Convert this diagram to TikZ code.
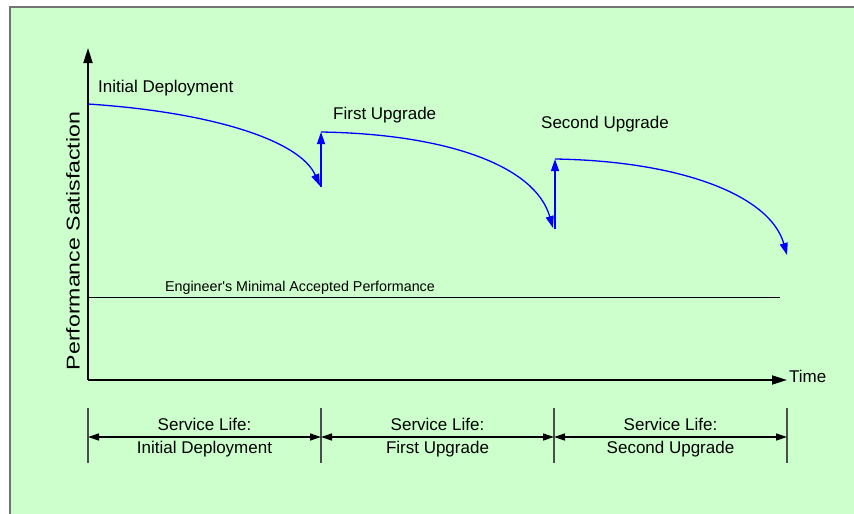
\documentclass[tikz,border=0pt]{standalone}
\usepackage{fontspec}
\setmainfont{Liberation Sans}
\usetikzlibrary{arrows.meta}
\definecolor{panelgreen}{RGB}{204,255,204}
\tikzset{
x=1pt, y=-1pt, % one unit is one pixel of the original, y grows downwards
axis/.style={line width=1.8pt, -{Triangle[length=15pt,width=9pt]}}, % the two axes
life/.style={blue, line width=1.3pt, -{Triangle[length=12pt,width=8pt]}}, % performance curves and upgrades
span/.style={line width=1.3pt, {Triangle[length=11pt,width=7pt]}-{Triangle[length=11pt,width=7pt]}}, % service life arrows
tick/.style={line width=1.4pt, black!70}, % limits of a service life
big/.style={font=\fontsize{17}{20}\selectfont, inner sep=0pt}, % usual text
small/.style={font=\fontsize{14.3}{17}\selectfont, inner sep=0pt}, % text on the minimum line
}

\begin{document}
\begin{tikzpicture}

\useasboundingbox (0,0) rectangle (854,514);
\clip (0,0) rectangle (854,514);
\fill[white] (0,0) rectangle (854,514);
\draw[line width=1.6pt, black!55, fill=panelgreen] (10,7) rectangle (880,540);

\coordinate (o) at (88,380);
\coordinate (ytop) at (88,48);
\coordinate (xend) at (787,380);
\coordinate (m0) at (88,297);
\coordinate (m1) at (780,297);

\coordinate (a0) at (88,104);
\coordinate (a1) at (320,186);
\coordinate (b0) at (321,132);
\coordinate (b1) at (553,228);
\coordinate (c0) at (555,159);
\coordinate (c1) at (787,255);
\coordinate (u0) at (321,187);
\coordinate (v0) at (555,229);

\node[big, anchor=base west] at (98,92) (init) {Initial Deployment};
\node[big, anchor=base west] at (333,119) (first) {First Upgrade};
\node[big, anchor=base west] at (541,128) (second) {Second Upgrade};
\node[big, anchor=base west] at (789,382) (time) {Time};
\node[small, anchor=base] at (300,291) (minimal) {Engineer\textquotesingle s Minimal Accepted Performance};
\node[big, rotate=90, font=\fontsize{18.5}{20}\selectfont] at (73,241) (perf) {\scalebox{1.25}[1]{Performance Satisfaction}};

\draw[axis] (o) -- (ytop);
\draw[axis] (o) -- (xend);
\draw[line width=1pt] (m0) -- (m1);

\draw[life] (a0) .. controls (210,112) and (300,140) .. (a1);
\draw[life] (u0) -- (b0);
\draw[life] (b0) .. controls (445,134) and (535,165) .. (b1);
\draw[life] (v0) -- (c0);
\draw[life] (c0) .. controls (680,161) and (770,195) .. (c1);

\foreach \x/\n in {88/0, 321/1, 554/2, 787/3} {
  \coordinate (t\n) at (\x,437);
  \coordinate (top\n) at (\x,408);
  \coordinate (bot\n) at (\x,463);
  \draw[tick] (top\n) -- (bot\n);
}

\draw (t0) edge[span] node[big, above=6pt]{Service Life:} node[big, below=4pt]{Initial Deployment} (t1);
\draw (t1) edge[span] node[big, above=6pt]{Service Life:} node[big, below=4pt]{First Upgrade} (t2);
\draw (t2) edge[span] node[big, above=6pt]{Service Life:} node[big, below=4pt]{Second Upgrade} (t3);

\end{tikzpicture}
\end{document}
